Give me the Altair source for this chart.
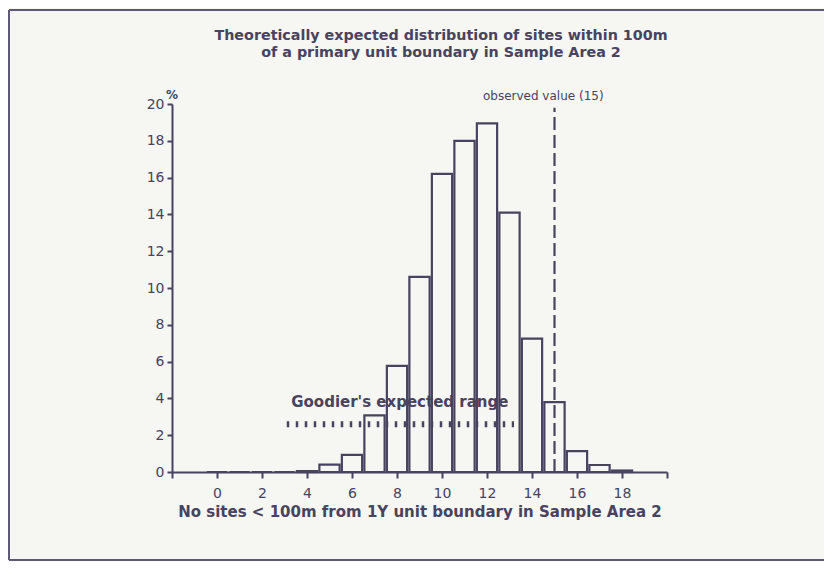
import altair as alt
import pandas as pd

# ---- data ----
sites = list(range(0, 19))
pct = [0, 0, 0, 0, 0.05, 0.4, 0.93, 3.08, 5.77, 10.6, 16.2, 18.0, 18.95,
       14.1, 7.25, 3.8, 1.13, 0.38, 0.08]
x_ticks = list(range(-2, 21, 2))
y_ticks = list(range(0, 21, 2))
observed_value = 15
observed_top = 19.8
goodier_lo, goodier_hi, goodier_y = 3.1, 13.2, 2.6
title_lines = ["Theoretically expected distribution of sites within 100m",
               "of a primary unit boundary in Sample Area 2"]
x_title = "No sites < 100m from 1Y unit boundary in Sample Area 2"
observed_label = "observed value (15)"
goodier_label = "Goodier's expected range"

INK = "#48435f"
BG = "#f6f6f2"
FONT = "DejaVu Sans"
W, H = 495, 368
half = 0.45

bars = pd.DataFrame({"site": sites, "pct": pct})
bars["lo"] = bars["site"] - half
bars["hi"] = bars["site"] + half

xscale = alt.Scale(domain=[-2, 20], nice=False, zero=False)
yscale = alt.Scale(domain=[0, 20], nice=False)

xaxis = alt.Axis(values=x_ticks, title=x_title, grid=False, tickSize=6,
                 tickWidth=2, tickColor=INK, domainColor=INK, domainWidth=2,
                 labelColor=INK, labelFont=FONT, labelFontSize=14,
                 labelPadding=8, labelOverlap=False, titleFont=FONT, titleFontSize=15,
                 titleFontWeight="bold", titleColor=INK, titlePadding=4,
                 labelExpr="datum.value >= 0 && datum.value <= 18 ? datum.label : ''")
yaxis = alt.Axis(values=y_ticks, title=None, grid=False, tickSize=5,
                 tickWidth=2, tickColor=INK, domainColor=INK, domainWidth=2,
                 labelColor=INK, labelFont=FONT, labelFontSize=14,
                 labelPadding=3, labelOverlap=False)


def X(field):
    return alt.X(field, scale=xscale, axis=xaxis)


def Y(field):
    return alt.Y(field, scale=yscale, axis=yaxis)


bar_fill = alt.Chart(bars).mark_rect(fill=BG, strokeWidth=0).encode(
    x=X("lo:Q"), x2="hi:Q", y=Y("pct:Q"), y2=alt.datum(0))
bar_stroke = alt.Chart(bars).mark_rect(fill=None, stroke=INK, strokeWidth=2.2).encode(
    x=X("lo:Q"), x2="hi:Q", y=Y("pct:Q"), y2=alt.datum(0))

obs_df = pd.DataFrame({"x": [observed_value], "y0": [0], "y1": [observed_top]})
obs_line = alt.Chart(obs_df).mark_rule(
    color=INK, strokeWidth=2.2, strokeDash=[13, 5]
).encode(x=X("x:Q"), y=Y("y0:Q"), y2="y1:Q")

obs_text = alt.Chart(pd.DataFrame({"x": [14.5], "y": [20.45], "t": [observed_label]})).mark_text(
    font=FONT, fontSize=12, color=INK, fontWeight="normal", align="center", baseline="middle"
).encode(x=X("x:Q"), y=Y("y:Q"), text="t:N")

g_df = pd.DataFrame({"x0": [goodier_lo], "x1": [goodier_hi], "y": [goodier_y]})
g_line = alt.Chart(g_df).mark_rule(
    color=INK, strokeWidth=6, strokeDash=[2.5, 6.5]
).encode(x=X("x0:Q"), x2="x1:Q", y=Y("y:Q"))

g_text = alt.Chart(pd.DataFrame({"x": [goodier_lo + 0.2], "y": [3.82], "t": [goodier_label]})).mark_text(
    font=FONT, fontSize=15, color=INK, fontWeight="bold", align="left", baseline="middle"
).encode(x=X("x:Q"), y=Y("y:Q"), text="t:N")

pct_sign = alt.Chart(pd.DataFrame({"t": ["%"]})).mark_text(
    font=FONT, fontSize=12, color=INK, fontWeight="bold", align="center", baseline="middle"
).encode(x=alt.value(0), y=alt.value(-9), text="t:N")

title_df = pd.DataFrame({"t": title_lines, "yy": [-68, -51]})
title_layer = alt.Chart(title_df).mark_text(
    font=FONT, fontSize=14.3, color=INK, fontWeight="bold", align="center", baseline="middle"
).encode(x=alt.value(269), y=alt.Y("yy:Q", scale=None), text="t:N")

frame_df = pd.DataFrame({
    "x0": [-163, -163, -163], "x1": [652, -163, 652],
    "y0": [-94, -94, 456], "y1": [-94, 456, 456],
})
frame = alt.Chart(frame_df).mark_rule(color="#5f5878", strokeWidth=2).encode(
    x=alt.X("x0:Q", scale=None), x2="x1:Q",
    y=alt.Y("y0:Q", scale=None), y2="y1:Q",
)

chart = alt.layer(
    bar_fill, frame, g_line, g_text, bar_stroke, obs_line, obs_text, pct_sign, title_layer
).properties(
    width=W, height=H,
    padding={"left": 164, "top": 96, "right": 157, "bottom": 89},
    autosize=alt.AutoSizeParams(type="none"),
    background=BG,
).configure_view(stroke=None)

chart.save("out.html", embed_options={"renderer": "svg", "actions": False})
